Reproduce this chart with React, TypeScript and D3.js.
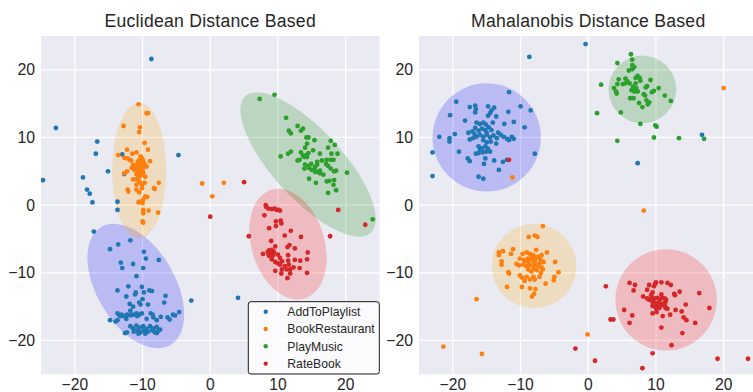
import React from 'react';
import * as d3 from 'd3';

const categories = ['AddToPlaylist', 'BookRestaurant', 'PlayMusic', 'RateBook'];
const pointColors = ['#1f77b4', '#ff7f0e', '#2ca02c', '#d62728'];
const regionColors = ['blue', 'orange', 'green', 'red'];
const xTicks = [-20, -10, 0, 10, 20];
const yTicks = [-20, -10, 0, 10, 20];
const panelTitles = ['Euclidean Distance Based', 'Mahalanobis Distance Based'];

// [cx, cy, semi-major, semi-minor, angle (deg, ccw from +x)] in data units
const euclidRegions = [
  [-11.0, -11.95, 10.1, 5.8, -59.6],
  [-10.5, 5.1, 10.0, 4.0, 90],
  [14.45, 6.0, 13.7, 5.1, -47.4],
  [11.48, -5.75, 8.4, 5.4, -72.9],
];
const mahaRegions = [
  [-15.0, 10.0, 8.0, 8.0, 0],
  [-8.0, -9.0, 6.25, 6.25, 0],
  [8.0, 17.1, 5.0, 5.0, 0],
  [11.5, -14.0, 7.5, 7.5, 0],
];

const euclidAdd = [
  [-8.7,21.6],[-22.8,11.4],[-24.7,3.7],[-16.7,9.4],[-16.9,7.6],[-15.1,5.0],[-18.8,4.1],[-18.2,2.3],[-17.8,1.7],[-13.0,7.5],[-12.7,4.6],[-4.7,7.4],[-17.4,0.4],[-13.7,0.5],[-13.7,-0.7],[-17.2,-3.9],[4.1,-13.7],[-2.8,-14.1],
  [-11.8,-5.2],[-13.6,-5.8],[-14.8,-6.5],[-9.8,-6.9],[-9.5,-7.9],[-7.6,-8.1],[-13.2,-8.5],[-11.4,-8.7],[-13.0,-9.3],[-9.9,-9.3],[-10.9,-10.5],[-12.1,-12.0],[-10.1,-12.1],[-13.7,-12.6],[-9.0,-12.6],[-8.6,-12.7],[-11.0,-12.9],[-11.1,-13.2],[-9.8,-12.9],[-12.4,-13.5],[-6.6,-13.4],[-10.0,-13.9],[-10.5,-14.4],[-10.3,-14.7],[-9.2,-14.7],[-11.9,-14.6],[-11.4,-15.0],[-6.8,-14.4],[-11.8,-15.6],
  [-13.7,-16.0],[-13.4,-16.3],[-13.1,-16.2],[-13.3,-16.4],[-12.8,-16.4],[-12.3,-16.2],[-11.8,-16.3],[-11.4,-16.2],[-10.9,-16.0],[-10.5,-16.2],[-10.1,-16.0],[-10.8,-16.4],[-8.8,-16.0],[-8.5,-16.2],[-7.3,-16.5],[-6.3,-16.6],[-6.0,-16.9],[-5.5,-16.2],[-5.2,-16.3],[-4.6,-15.8],[-14.8,-17.0],[-14.0,-17.2],[-13.7,-17.0],[-12.4,-16.8],[-9.4,-16.8],[-8.4,-16.6],[-7.9,-17.0],
  [-11.8,-17.9],[-11.4,-18.2],[-10.9,-17.8],[-10.4,-18.1],[-9.9,-17.9],[-9.4,-18.3],[-8.9,-17.9],[-8.4,-18.2],[-7.9,-18.0],[-7.4,-18.4],
  [-11.3,-18.7],[-10.8,-18.5],[-10.3,-18.8],[-9.8,-18.5],[-9.2,-18.7],[-8.6,-18.5],[-8.2,-18.8],[-7.7,-18.6],
  [-12.6,-18.9],[-12.3,-18.8],[-10.6,-19.0],[-9.6,-19.0],[-7.9,-18.9],
];
const euclidBook = [
  [-10.6,14.9],[-9.4,13.6],[-9.2,13.6],[-12.8,11.7],[-10.4,11.5],[-10.5,10.8],[-9.7,9.2],[-9.2,8.2],[-12.3,8.2],[-13.6,7.4],[-11.5,7.6],[-10.9,7.8],
  [-12.7,7.0],[-12.2,6.9],[-11.9,6.7],[-11.7,6.6],[-8.9,6.5],[-11.4,6.0],[-11.6,5.5],[-11.2,5.2],[-12.3,5.0],[-12.7,4.7],[-9.4,5.7],[-9.6,4.2],[-10.6,4.0],[-10.9,3.8],[-11.4,3.8],[-10.4,3.4],[-9.7,3.3],[-10.1,3.0],[-10.9,3.0],[-7.6,3.3],[-8.3,2.5],[-8.2,2.4],[-12.2,2.3],[-12.1,2.0],[-10.9,2.3],[-10.5,1.9],[-10.1,2.5],[-9.6,1.3],[-9.3,1.2],[-9.9,0.8],[-10.5,0.5],[-10.0,0.3],[-10.6,0.4],[-9.1,-0.8],[-9.9,-1.2],[-7.7,-1.1],[-9.9,-0.7],[-10.0,-2.4],[-9.9,-2.6],
  [-10.2,7.0],[-10.0,6.8],[-10.5,6.6],[-9.9,6.4],[-10.3,6.2],[-10.7,6.0],[-10.1,5.9],[-9.8,5.7],[-10.4,5.5],[-10.8,5.4],[-10.0,5.3],[-10.6,5.1],[-10.2,5.0],[-9.9,4.8],[-10.5,4.7],[-10.9,4.6],[-10.1,4.5],[-10.4,4.3],[-10.7,6.4],[-10.3,7.2],[-9.7,6.1],[-11.0,5.8],[-10.6,4.2],
  [-1.2,3.2],[2.0,3.3],[0.3,1.3],
];
const euclidPlay = [
  [7.3,15.7],[9.5,16.3],[11.2,12.9],[11.6,11.0],[11.9,10.6],[12.9,11.7],[13.4,11.0],[13.7,11.3],[14.2,10.0],[14.5,10.0],[15.4,9.6],[14.3,9.1],[17.8,9.5],[18.4,8.9],[14.0,8.5],[15.2,8.1],[17.4,8.5],[11.9,7.9],[11.5,7.6],[10.4,7.2],[13.4,7.8],[13.7,7.3],[14.2,7.4],[14.5,7.7],[13.9,7.1],[14.3,7.1],[16.2,7.6],[17.9,7.6],[18.8,7.6],[13.2,6.7],[12.9,6.6],[15.8,6.4],[16.5,6.6],[17.2,6.7],[17.8,6.7],[18.2,6.7],[14.0,6.0],[14.5,5.8],[14.9,6.1],[15.5,5.7],[15.8,6.0],[17.1,6.1],[17.4,5.8],[13.9,5.4],[14.6,5.5],[15.0,5.2],[15.5,4.9],[16.0,4.9],[16.2,4.7],[16.7,4.5],[15.4,5.3],[16.2,5.1],[17.8,5.4],[18.6,5.1],[18.3,5.0],[20.2,4.8],[14.6,3.9],[17.2,3.5],[17.6,3.6],[18.3,3.7],[15.6,3.3],[18.2,3.0],[17.4,1.8],[18.6,2.2],[24.0,-2.1],
];
const euclidRate = [
  [8.2,0.0],[8.3,-0.3],[8.6,-0.5],[9.1,-0.6],[9.5,-0.5],[9.8,-0.7],[10.1,-0.7],[10.3,-0.8],[8.0,-1.5],[9.7,-2.4],[10.4,-2.3],[10.5,-2.7],[9.7,-3.1],[8.7,-3.4],[11.9,-3.8],[5.7,-4.6],[17.7,-4.6],[11.0,-4.5],[13.4,-4.7],[9.0,-5.3],[9.6,-6.1],[11.7,-5.9],[11.4,-6.2],[12.5,-6.4],
  [8.7,-6.7],[9.0,-6.6],[9.3,-6.8],[8.8,-7.0],[9.1,-7.0],[8.6,-7.2],[8.9,-7.3],[9.2,-7.2],[8.7,-7.5],[9.0,-7.5],[9.3,-7.4],[8.5,-6.9],[9.4,-7.0],
  [7.8,-7.2],[14.4,-7.0],[10.0,-7.3],[10.3,-7.8],[11.5,-7.4],[9.1,-8.0],[9.6,-8.4],[10.0,-8.6],[10.6,-8.3],[10.3,-8.8],[11.5,-8.2],[12.5,-8.1],[13.3,-8.2],[14.3,-8.0],[11.6,-8.8],[11.0,-9.0],[12.3,-9.2],[13.2,-9.3],[9.6,-9.7],[10.6,-9.5],[11.3,-9.5],[11.8,-9.5],[10.5,-10.1],[11.8,-10.1],[14.3,-10.0],[11.4,-10.8],
  [5.0,3.4],[0.0,-1.7],[18.9,-0.7],[22.9,-2.9],
];

const mahaAdd = [
  [-11.7,16.7],[-19.5,15.3],[-17.5,14.5],[-16.7,14.7],[-16.6,14.2],[-16.7,13.7],[-14.8,14.6],[-13.9,14.4],[-14.3,14.0],[-14.5,13.6],[-14.8,13.2],[-10.0,14.6],[-8.5,14.0],[-11.8,13.8],[-20.4,13.3],[-13.6,13.1],[-18.2,12.5],[-11.0,12.3],[-12.4,12.0],[-16.5,12.2],[-16.0,12.0],[-15.5,12.2],[-15.1,11.9],[-14.1,12.2],[-9.4,11.5],[-16.7,11.4],[-16.2,11.0],[-15.7,11.3],[-15.2,11.1],[-14.7,11.5],[-14.3,11.1],[-15.0,10.7],[-17.7,10.7],[-17.1,10.9],[-16.8,10.5],[-13.3,10.7],[-12.9,10.4],[-12.5,10.1],[-19.7,10.5],[-22.0,10.1],[-20.5,9.9],[-20.5,9.4],[-17.5,9.7],[-17.0,9.9],[-16.5,10.1],[-16.0,10.4],[-15.5,10.1],[-15.0,10.4],[-14.5,10.0],[-14.0,10.3],[-13.5,9.9],[-12.0,9.8],[-11.7,9.6],[-11.3,10.1],[-11.0,9.8],[-15.5,9.6],[-15.0,9.3],[-14.4,9.4],[-13.6,9.1],[-16.2,8.7],[-15.7,8.4],[-15.2,8.7],[-16.0,8.2],[-14.8,8.3],[-14.5,7.9],[-15.1,7.9],[-15.6,7.8],[-16.2,7.7],[-16.6,7.6],[-19.1,7.9],[-23.0,7.8],[-7.9,7.6],[-17.8,6.9],[-17.5,6.5],[-15.2,6.9],[-15.4,6.1],[-13.9,6.6],[-12.6,6.4],[-12.0,6.7],[-13.2,5.2],[-23.0,4.3],[-16.2,4.2],[-15.5,3.9],
  [-0.4,23.8],[-8.7,21.9],[16.8,10.4],[7.3,6.2],
];
const mahaBook = [
  [-6.7,-3.1],[-7.9,-4.5],[-7.5,-4.7],[-8.8,-4.7],[-11.1,-6.5],[-7.7,-6.6],[-6.1,-7.0],[-13.2,-7.0],[-12.6,-6.8],[-13.2,-7.4],[-11.4,-7.2],[-9.7,-7.2],[-9.1,-7.0],[-8.6,-7.2],[-8.1,-7.4],[-7.4,-7.6],[-6.9,-7.4],[-10.1,-7.9],[-9.5,-8.1],[-8.9,-7.9],[-8.4,-8.0],[-7.9,-8.2],[-7.1,-8.0],[-6.6,-8.4],[-4.9,-8.4],[-12.8,-8.3],[-12.8,-8.8],[-10.6,-8.7],[-10.2,-8.9],[-9.6,-8.8],[-9.1,-9.0],[-8.6,-8.9],[-7.9,-8.8],[-7.4,-9.0],[-6.9,-9.2],[-8.9,-9.5],[-8.1,-9.4],[-7.6,-9.6],[-6.7,-9.5],[-11.8,-9.9],[-11.7,-10.1],[-4.4,-9.9],[-10.1,-10.4],[-9.8,-10.7],[-9.1,-10.6],[-8.6,-11.0],[-7.9,-11.0],[-7.2,-10.6],[-8.1,-10.6],[-5.0,-10.6],[-5.1,-11.1],[-6.3,-11.6],[-9.4,-11.2],[-12.0,-12.1],[-9.8,-12.1],[-8.6,-12.3],[-7.8,-12.4],[-8.0,-13.1],[-8.3,-13.5],
  [-8.3,-7.6],[-7.8,-7.8],[-8.8,-8.4],[-8.0,-8.5],[-7.2,-8.6],[-9.3,-8.3],[-8.4,-9.8],[-7.0,-10.0],
  [8.2,-0.8],[-16.5,-13.9],[-21.4,-20.9],[-15.7,-22.0],[-0.1,-19.1],[-11.2,4.1],[20.0,17.3],
];
const mahaPlay = [
  [6.3,22.3],[4.3,21.0],[6.5,21.5],[6.5,20.7],[6.8,20.4],[6.0,19.9],[6.5,20.1],[1.9,17.8],[4.5,18.6],[4.3,17.9],[5.5,18.7],[5.8,18.3],[6.1,18.0],[5.1,17.9],[5.5,18.0],[7.0,18.8],[7.3,19.1],[7.6,18.8],[7.7,18.4],[7.0,18.0],[6.6,17.5],[7.1,17.3],[6.4,17.0],[6.8,16.8],[7.3,16.8],[3.8,17.3],[4.1,16.8],[4.2,16.5],[9.2,18.5],[8.7,17.6],[8.5,17.4],[10.4,17.3],[9.7,16.9],[9.4,16.7],[8.2,16.4],[8.4,16.2],[11.3,16.2],[12.2,15.4],[6.2,15.8],[6.7,15.8],[8.6,15.5],[9.0,15.2],[8.8,14.9],[7.5,15.1],[8.0,14.5],[1.3,13.6],[4.8,13.7],[7.7,12.0],[9.9,11.8],[10.1,11.6],[9.7,10.0],[13.4,9.9],[17.1,9.8],[4.3,9.5],
];
const mahaRate = [
  [2.6,-12.0],[6.1,-11.5],[6.9,-11.8],[6.7,-12.6],[9.0,-11.8],[9.7,-12.0],[9.9,-11.6],[10.0,-11.4],[10.8,-11.4],[11.7,-11.5],[12.2,-11.8],[8.7,-12.5],[9.5,-12.9],[9.3,-13.3],[8.1,-13.5],[8.7,-13.8],[9.0,-14.0],[9.3,-13.9],[9.8,-13.8],[10.2,-13.7],[10.6,-13.9],[10.9,-13.7],[11.3,-13.8],[11.5,-14.0],[11.4,-14.3],[10.8,-13.2],[9.5,-14.3],[9.9,-14.5],[10.4,-14.4],[10.9,-14.6],[9.8,-14.9],[10.3,-15.0],[10.8,-14.8],[11.3,-14.8],[10.0,-15.2],[10.5,-15.2],[9.5,-14.9],[11.4,-15.2],[11.7,-15.3],[10.1,-15.8],[9.5,-16.0],[11.0,-16.4],[12.1,-16.2],[12.9,-15.5],[13.8,-15.7],[12.7,-13.1],[12.8,-13.3],[13.5,-12.8],[16.4,-13.0],[14.4,-14.7],[17.9,-15.2],[5.3,-15.5],[6.5,-16.3],[3.3,-16.9],[3.7,-16.9],[6.1,-17.4],[14.1,-16.6],[14.5,-17.0],[15.8,-17.4],[10.8,-18.1],[13.9,-18.9],[12.3,-20.7],[9.5,-21.9],[8.0,-24.1],[19.1,-22.7],[23.6,-22.7],[-1.9,-21.2],[1.0,-23.0],[-11.7,6.7],
];

const panels = [
  { title: panelTitles[0], regions: euclidRegions, series: [euclidAdd, euclidBook, euclidPlay, euclidRate], left: 41, legend: true },
  { title: panelTitles[1], regions: mahaRegions, series: [mahaAdd, mahaBook, mahaPlay, mahaRate], left: 419, legend: false },
];

const FONT = '"Liberation Sans", Arial, "DejaVu Sans", sans-serif';
const TEXT = '#262626';
const PW = 338.5;
const TOP = 36;
const BOTTOM = 374.3;

function fmt(v: number) {
  return v < 0 ? '\u2212' + Math.abs(v) : String(v);
}

function Panel({ p, idx }: { p: any; idx: number }) {
  const x = d3.scaleLinear().domain([-25, 25]).range([p.left, p.left + PW]);
  const y = d3.scaleLinear().domain([-25, 25]).range([BOTTOM, TOP]);
  const kx = Math.abs(x(1) - x(0));
  const ky = Math.abs(y(1) - y(0));
  const clipId = `clip${idx}`;
  return (
    <g>
      <defs>
        <clipPath id={clipId}>
          <rect x={p.left} y={TOP} width={PW} height={BOTTOM - TOP} />
        </clipPath>
      </defs>
      <rect x={p.left} y={TOP} width={PW} height={BOTTOM - TOP} fill="#EAEAF2" />
      {xTicks.map((t) => (
        <line key={'gx' + t} x1={x(t)} x2={x(t)} y1={TOP} y2={BOTTOM} stroke="#fff" strokeWidth={1.25} />
      ))}
      {yTicks.map((t) => (
        <line key={'gy' + t} x1={p.left} x2={p.left + PW} y1={y(t)} y2={y(t)} stroke="#fff" strokeWidth={1.25} />
      ))}
      <g clipPath={`url(#${clipId})`}>
        {p.regions.map((r: number[], i: number) => (
          <ellipse
            key={'e' + i}
            cx={0}
            cy={0}
            rx={r[2] * kx}
            ry={r[3] * ky}
            transform={`translate(${x(r[0])},${y(r[1])}) rotate(${-r[4]})`}
            fill={regionColors[i]}
            fillOpacity={0.2}
          />
        ))}
        {p.series.map((pts: number[][], si: number) => (
          <g key={'s' + si} fill={pointColors[si]}>
            {pts.map((d, j) => (
              <circle key={j} cx={x(d[0])} cy={y(d[1])} r={2.4} />
            ))}
          </g>
        ))}
      </g>
      {xTicks.map((t) => (
        <text key={'tx' + t} x={x(t)} y={389.6} textAnchor="middle" fontSize={15.6} fill={TEXT} fontFamily={FONT}>
          {fmt(t)}
        </text>
      ))}
      {yTicks.map((t) => (
        <text key={'ty' + t} x={p.left - 6} y={y(t) + 5.6} textAnchor="end" fontSize={15.8} fill={TEXT} fontFamily={FONT}>
          {fmt(t)}
        </text>
      ))}
      <text x={p.left + PW / 2} y={26.8} textAnchor="middle" fontSize={17.6} letterSpacing={0.25} fill={TEXT} fontFamily={FONT}>
        {p.title}
      </text>
      {p.legend && (
        <g>
          <rect x={248.3} y={301.7} width={131} height={72.3} rx={2.5} fill="#ffffff" fillOpacity={0.8} stroke="#1a1a1a" strokeWidth={1} />
          {categories.map((c, i) => (
            <g key={c}>
              <circle cx={265.7} cy={311.7 + i * 17.3} r={2.2} fill={pointColors[i]} />
              <text x={287.3} y={311.7 + i * 17.3 + 4.4} fontSize={12.2} fill={TEXT} fontFamily={FONT}>
                {c}
              </text>
            </g>
          ))}
        </g>
      )}
    </g>
  );
}

export default function App() {
  return (
    <svg
      width={753}
      height={392}
      viewBox="0 0 753 392"
      style={{ position: 'absolute', left: 0, top: 0, background: '#fff' }}
    >
      <rect x={0} y={0} width={753} height={392} fill="#fff" />
      {panels.map((p, i) => (
        <Panel key={i} p={p} idx={i} />
      ))}
    </svg>
  );
}
